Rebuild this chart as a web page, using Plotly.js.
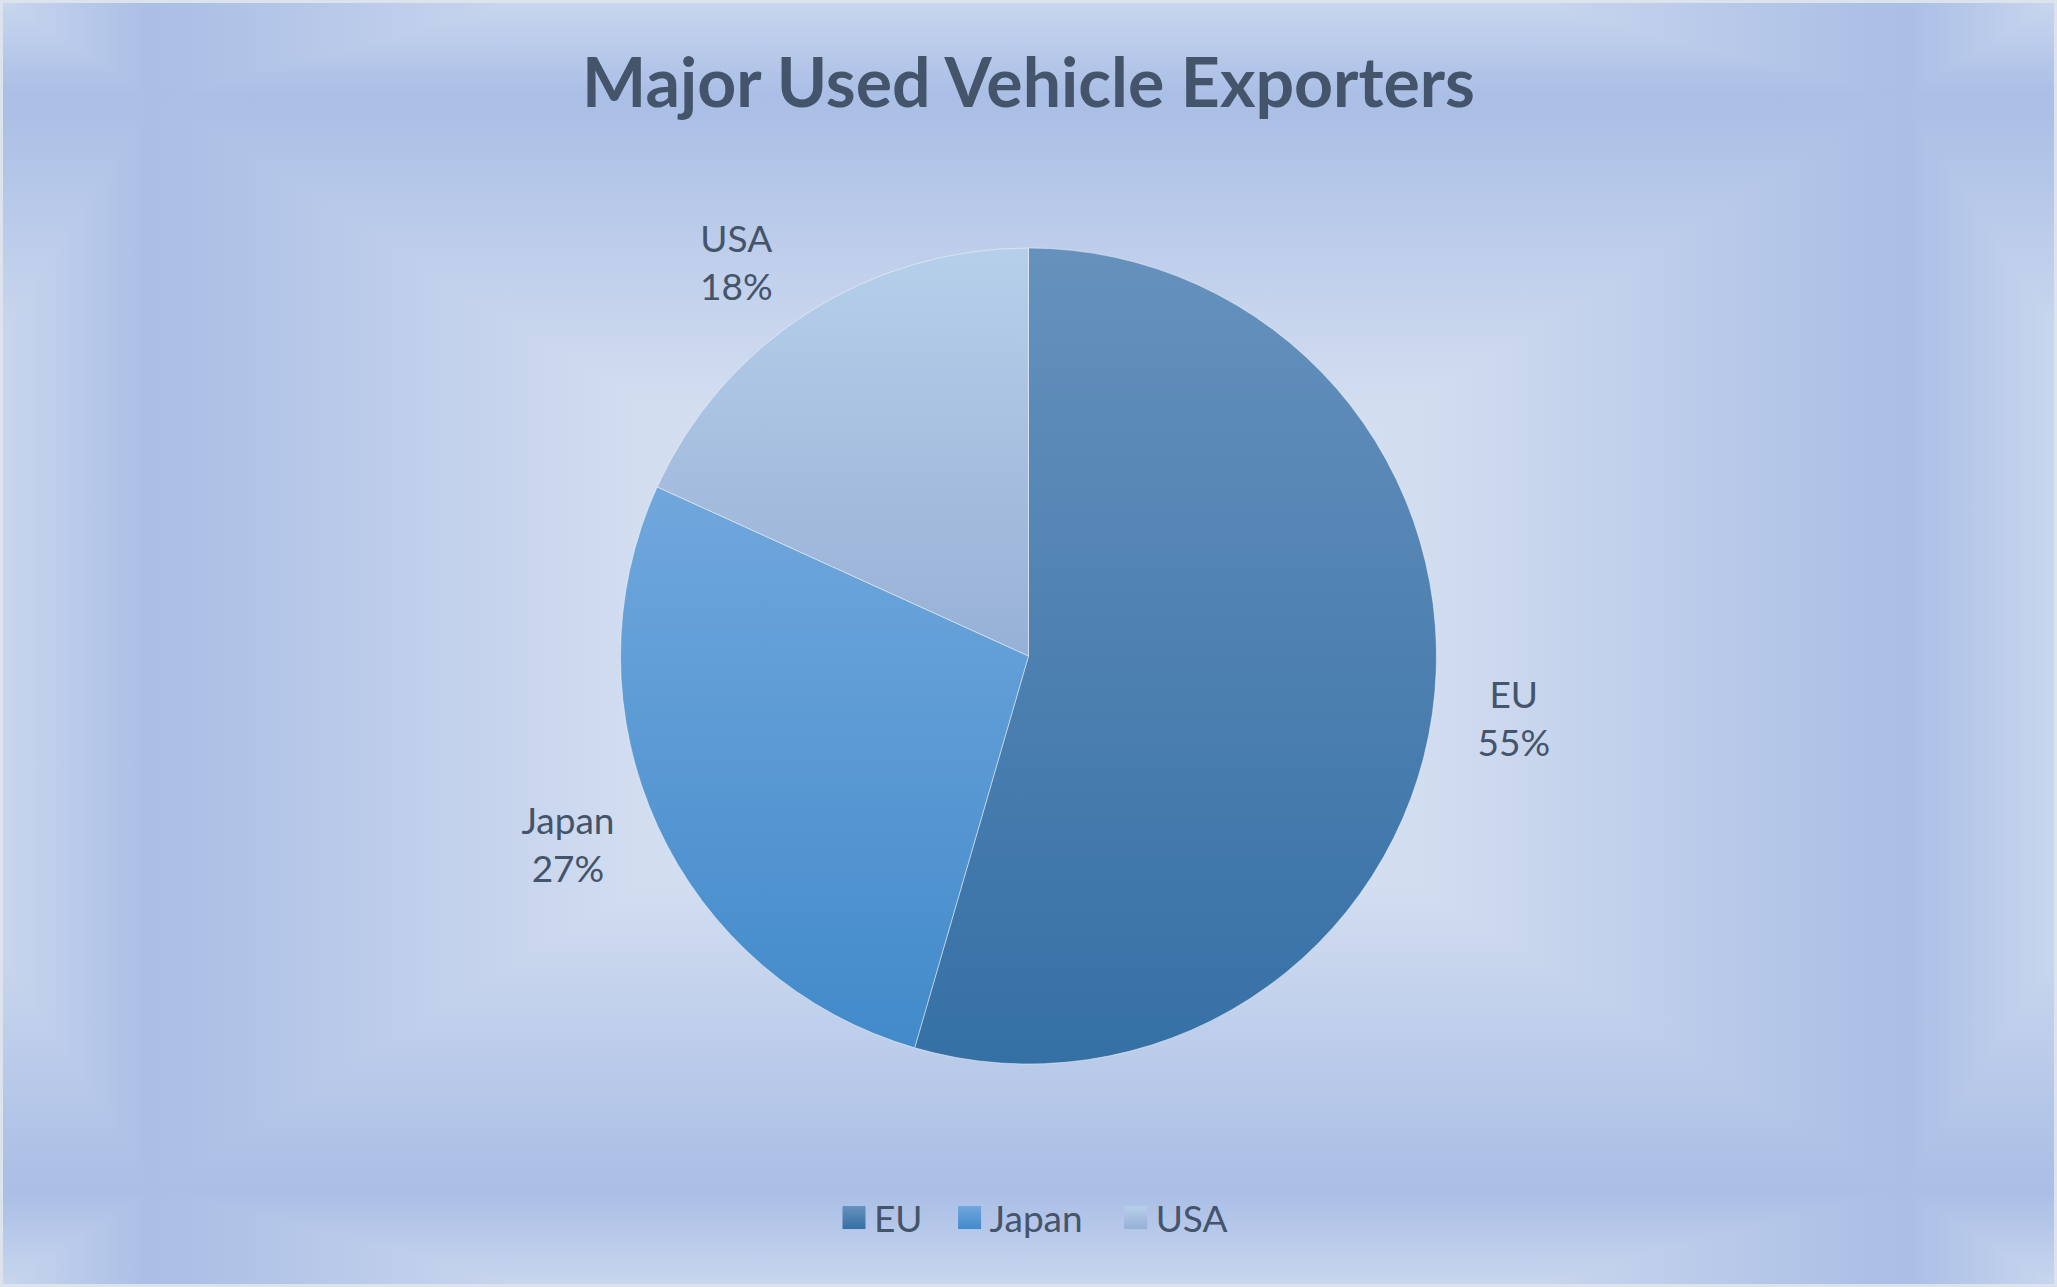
<!DOCTYPE html>
<html>
<head>
<meta charset="utf-8">
<script src="https://cdn.plot.ly/plotly-3.0.1.min.js"></script>
<style>
  html, body { margin: 0; padding: 0; background: #dde3ec; }
  #frame {
    position: absolute; left: 0; top: 0;
    width: 2057px; height: 1287px;
    box-sizing: border-box;
    border: 3px solid #dde3ec;
    background-image:
      linear-gradient(to right, #c8d6ee 0%, #abbfe6 7%, #acc0e6 9%, #d2ddf0 31%, #d9e2f2 42%, #d9e2f2 58%, #d2ddf0 69%, #acc0e6 91%, #abbfe6 93%, #c8d6ee 100%),
      linear-gradient(to bottom, #c8d6ee 0%, #abbfe6 7%, #acc0e6 9%, #d2ddf0 31%, #d9e2f2 42%, #d9e2f2 58%, #d2ddf0 69%, #acc0e6 91%, #abbfe6 93%, #c8d6ee 100%);
    background-blend-mode: darken;
  }
  #chart { position: absolute; left: 0; top: 0; width: 2057px; height: 1287px; }
</style>
</head>
<body>
<div id="frame"></div>
<div id="chart"></div>
<script>
// Data (shares of used vehicle exports)
const categories = ["EU", "Japan", "USA"];
const shares = [54.5, 27.3, 18.2];
const chartTitle = "Major Used Vehicle Exporters";

const baseColors = ["#4a7fb3", "#5899d6", "#a8c0e2"];
const gradStops = [
  ["#6691bd", "#3570a5"],
  ["#70a7dd", "#428aca"],
  ["#b6cfea", "#97b0d6"]
];
const textColor = "#44546a";
const fontFam = "Lato, 'Open Sans', sans-serif";
const W = 2057, H = 1287;
const CY = 656, R = 408, LABEL_R = 430;
const legendShift = [-20, 2, 30];

function domainFor(r) {
  return { x: [0, 1], y: [1 - (CY + r) / H, 1 - (CY - r) / H] };
}

// visible pie
const pieTrace = {
  type: "pie",
  labels: categories,
  values: shares,
  sort: false,
  direction: "clockwise",
  rotation: 0,
  marker: { colors: baseColors, line: { color: "rgba(255,255,255,0.45)", width: 1 } },
  textinfo: "none",
  domain: domainFor(R),
  hoverinfo: "skip",
  showlegend: true
};

// same data, slightly larger transparent ring used only to place the outside labels
const labelTrace = {
  type: "pie",
  labels: categories,
  values: shares,
  sort: false,
  direction: "clockwise",
  rotation: 0,
  marker: { colors: ["rgba(0,0,0,0)", "rgba(0,0,0,0)", "rgba(0,0,0,0)"], line: { width: 0 } },
  texttemplate: "%{label}<br>%{percent:.0%}",
  textposition: "outside",
  outsidetextfont: { family: fontFam, size: 37, color: textColor },
  textfont: { family: fontFam, size: 37, color: textColor },
  domain: domainFor(LABEL_R),
  hoverinfo: "skip",
  showlegend: false
};

const layout = {
  width: W, height: H,
  margin: { l: 0, r: 0, t: 0, b: 0 },
  paper_bgcolor: "rgba(0,0,0,0)",
  plot_bgcolor: "rgba(0,0,0,0)",
  title: {
    text: chartTitle,
    font: { family: fontFam, size: 68, color: textColor, weight: 700 },
    x: 0.5, xanchor: "center",
    y: 1 - 83 / H, yref: "container", yanchor: "middle"
  },
  showlegend: true,
  legend: {
    orientation: "h",
    x: 0.5, xanchor: "center",
    y: 1 - 1218 / H, yanchor: "middle",
    bgcolor: "rgba(0,0,0,0)",
    font: { family: fontFam, size: 37, color: textColor },
    itemclick: false, itemdoubleclick: false
  }
};

Plotly.newPlot("chart", [pieTrace, labelTrace], layout, { displayModeBar: false, staticPlot: true }).then(function (gd) {
  const svg = gd.querySelector("svg.main-svg");
  const ns = "http://www.w3.org/2000/svg";
  let defs = svg.querySelector("defs");
  if (!defs) { defs = document.createElementNS(ns, "defs"); svg.insertBefore(defs, svg.firstChild); }
  gradStops.forEach(function (s, i) {
    const lg = document.createElementNS(ns, "linearGradient");
    lg.setAttribute("id", "sliceGrad" + i);
    lg.setAttribute("x1", "0"); lg.setAttribute("y1", "0");
    lg.setAttribute("x2", "0"); lg.setAttribute("y2", "1");
    const a = document.createElementNS(ns, "stop");
    a.setAttribute("offset", "0"); a.setAttribute("stop-color", s[0]);
    const b = document.createElementNS(ns, "stop");
    b.setAttribute("offset", "1"); b.setAttribute("stop-color", s[1]);
    lg.appendChild(a); lg.appendChild(b);
    defs.appendChild(lg);
  });
  const pies = gd.querySelectorAll("g.pielayer g.trace");
  if (pies.length) {
    pies[0].querySelectorAll("g.slice path.surface").forEach(function (p, i) {
      p.style.fill = "url(#sliceGrad" + (i % gradStops.length) + ")";
    });
  }
  gd.querySelectorAll(".legend .scrollbox, .legend").forEach(function (el) {
    el.removeAttribute("clip-path");
    el.style.clipPath = "none";
  });
  gd.querySelectorAll(".legend .traces").forEach(function (t, i) {
    t.querySelectorAll(".legendpoints path").forEach(function (p) {
      p.style.fill = "url(#sliceGrad" + (i % gradStops.length) + ")";
      p.style.strokeWidth = "0";
      p.setAttribute("d", "M11.5,11.5H-11.5V-11.5H11.5Z");
    });
    const tr = t.getAttribute("transform") || "";
    const m = tr.match(/translate\(\s*([-\d.e]+)[ ,]+([-\d.e]+)\s*\)/);
    if (m) {
      const nx = parseFloat(m[1]) + (legendShift[i] || 0);
      t.setAttribute("transform", "translate(" + nx + "," + m[2] + ")");
    }
  });
});
</script>
</body>
</html>
